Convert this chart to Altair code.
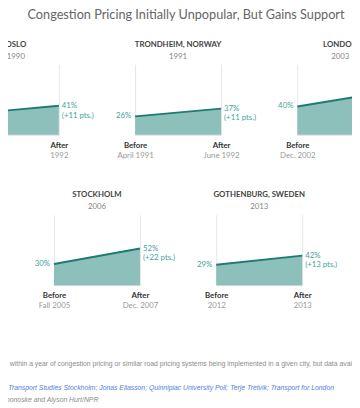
import altair as alt
import pandas as pd

# ---- data ----
cities = ["OSLO", "TRONDHEIM, NORWAY", "LONDON", "STOCKHOLM", "GOTHENBURG, SWEDEN"]
years = ["1990", "1991", "2003", "2006", "2013"]
phases = ["Before", "After"]
before_vals = [30, 26, 40, 30, 29]
after_vals = [41, 37, 60, 52, 42]
before_dates = ["1989", "April 1991", "Dec. 2002", "Fall 2005", "2012"]
after_dates = ["1992", "June 1992", "Feb. 2004", "Dec. 2007", "2013"]

chart_title = "Congestion Pricing Initially Unpopular, But Gains Support"
notes_text = ("n within a year of congestion pricing or similar road pricing systems "
              "being implemented in a given city, but data available")
sources_text = ("r Transport Studies Stockholm; Jonas Eliasson; Quinnipiac University Poll; "
                "Terje Tretvik; Transport for London")
credit_text = "monoske and Alyson Hurt/NPR"

AREA = "#8dc0ba"
LINE = "#1d7b73"
LABEL = "#45a398"
W, H = 88, 72


def panel(i):
    df = pd.DataFrame({
        "phase": phases,
        "date": [before_dates[i], after_dates[i]],
        "value": [before_vals[i], after_vals[i]],
        "pct": [f"{before_vals[i]}%", f"{after_vals[i]}%"],
        "change": ["", f"(+{after_vals[i] - before_vals[i]} pts.)"],
    })
    base = alt.Chart(df)
    x = alt.X("phase:N", sort=phases, title=None,
              scale=alt.Scale(type="point", padding=0),
              axis=alt.Axis(labelAngle=0, ticks=False, grid=True, gridColor="#e6e6e6",
                            domainColor="#d6d6d6", labelFont="Lato", labelFontWeight="bold",
                            labelFontSize=8, labelColor="#333333", labelPadding=7))
    y = alt.Y("value:Q", scale=alt.Scale(domain=[0, 100]), axis=None)
    area = base.mark_area(color=AREA, opacity=1).encode(x=x, y=y)
    line = base.mark_line(color=LINE, strokeWidth=2).encode(x=x, y=y)
    txt = dict(font="Lato", fontSize=8, color=LABEL, baseline="middle")
    left_lbl = base.transform_filter("datum.phase == 'Before'").mark_text(
        align="right", dx=-4, **txt).encode(x=x, y=y, text="pct:N")
    right_lbl = base.transform_filter("datum.phase == 'After'").mark_text(
        align="left", dx=3, **txt).encode(x=x, y=y, text="pct:N")
    right_chg = base.transform_filter("datum.phase == 'After'").mark_text(
        align="left", dx=3, dy=10, **txt).encode(x=x, y=y, text="change:N")
    inner = alt.layer(area, line, left_lbl, right_lbl, right_chg)
    dates = base.mark_point(opacity=0).encode(
        x=alt.X("date:N", sort=[before_dates[i], after_dates[i]], title=None,
                scale=alt.Scale(type="point", padding=0),
                axis=alt.Axis(orient="bottom", offset=10, labelAngle=0, ticks=False,
                              domain=False, grid=False, labelFont="Lato", labelFontSize=8,
                              labelColor="#9a9a9a", labelPadding=7)))
    return alt.layer(inner, dates).resolve_scale(x="independent").properties(
        width=W, height=H,
        title=alt.TitleParams(text=cities[i], subtitle=years[i], anchor="middle",
                              font="Lato", fontSize=8, fontWeight="bold", color="#444444",
                              subtitleFont="Lato", subtitleFontSize=8,
                              subtitleColor="#888888", subtitlePadding=4.5, offset=3.5))


row1 = alt.hconcat(panel(0), panel(1), panel(2), spacing=78, bounds="flush")
row2 = alt.hconcat(panel(3), panel(4), spacing=78, bounds="flush")

foot_df = pd.DataFrame({"notes": [notes_text], "sources": [sources_text], "credit": [credit_text]})
fbase = alt.Chart(foot_df)
ftxt = dict(font="Liberation Sans", fontSize=7, align="left", baseline="middle",
            limit=380, ellipsis="")
FX = 14
footer = alt.layer(
    fbase.mark_text(color="#8c8c8c", **ftxt).encode(
        x=alt.value(FX), y=alt.value(23), text="notes:N"),
    fbase.mark_text(color="#4f7fd6", fontStyle="italic", **ftxt).encode(
        x=alt.value(FX), y=alt.value(47), text="sources:N"),
    fbase.mark_text(color="#8a8a8a", fontStyle="italic", **ftxt).encode(
        x=alt.value(FX), y=alt.value(60), text="credit:N"),
).properties(width=420, height=65)

chart = alt.vconcat(row1, row2, footer, spacing=33, center=True).properties(
    title=alt.TitleParams(text=chart_title, anchor="middle", font="Lato", fontSize=13,
                          fontWeight="normal", color="#666666", offset=19),
    padding={"left": -36, "right": 388, "top": 53, "bottom": 343},
    autosize=alt.AutoSizeParams(type="none"),
).configure_view(stroke=None)

chart.save("out.html", embed_options={"renderer": "svg", "actions": False})
